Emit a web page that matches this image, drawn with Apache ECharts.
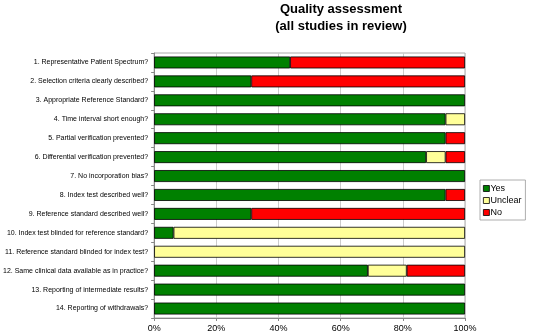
<!DOCTYPE html>
<html>
<head>
<meta charset="utf-8">
<script src="https://cdn.jsdelivr.net/npm/echarts@6/dist/echarts.min.js"></script>
<style>
  html, body { margin: 0; padding: 0; background: #fff; }
  #chart { width: 533px; height: 335px; }
</style>
</head>
<body>
<div id="chart"></div>
<script>
// questions, top to bottom
const questions = [
    '1. Representative Patient Spectrum?',
    '2. Selection criteria clearly described?',
    '3. Appropriate Reference Standard?',
    '4. Time interval short enough?',
    '5. Partial verification prevented?',
    '6. Differential verification prevented?',
    '7. No incorporation bias?',
    '8. Index test described well?',
    '9. Reference standard described well?',
    '10. Index test blinded for reference standard?',
    '11. Reference standard blinded for index test?',
    '12. Same clinical data available as in practice?',
    '13. Reporting of intermediate results?',
    '14. Reporting of withdrawals?'
];
// percentages
const yesPct     = [43.75, 31.25, 100, 93.75, 93.75, 87.5, 100, 93.75, 31.25, 6.25, 0, 68.75, 100, 100];
const unclearPct = [0, 0, 0, 6.25, 0, 6.25, 0, 0, 0, 93.75, 100, 12.5, 0, 0];
const noPct      = [56.25, 68.75, 0, 0, 6.25, 6.25, 0, 6.25, 68.75, 0, 0, 18.75, 0, 0];
const tickLabels = ['0%', '20%', '40%', '60%', '80%', '100%'];

const chart = echarts.init(document.getElementById('chart'));

function barSeries(name, data, color) {
    return {
        name: name,
        type: 'bar',
        stack: 'total',
        barCategoryGap: '37%',
        // empty segments would otherwise leave a stray border line
        data: data.map(v => v === 0 ? '-' : v),
        itemStyle: { color: color, borderColor: '#000', borderWidth: 0.8 },
        emphasis: { disabled: true }
    };
}

chart.setOption({
    animation: false,
    textStyle: { fontFamily: 'Liberation Sans, Arial, sans-serif' },
    title: {
        text: 'Quality assessment\n(all studies in review)',
        left: 336,
        textAlign: 'center',
        top: -4,
        textStyle: { fontSize: 13, fontWeight: 'bold', color: '#000', lineHeight: 17 }
    },
    legend: {
        orient: 'vertical',
        left: 480,
        top: 180,
        itemWidth: 6,
        itemHeight: 6,
        itemGap: 3,
        padding: [4, 4, 3, 3],
        borderColor: '#999',
        borderWidth: 0.8,
        textStyle: { fontSize: 9, color: '#000', padding: [0, 0, 0, -4] },
        icon: 'rect',
        data: [
            { name: 'Yes', itemStyle: { borderColor: '#000', borderWidth: 0.8 } },
            { name: 'Unclear', itemStyle: { borderColor: '#000', borderWidth: 0.8 } },
            { name: 'No', itemStyle: { borderColor: '#000', borderWidth: 0.8 } }
        ]
    },
    grid: { left: 154, right: 68, top: 53, bottom: 17, show: true, borderColor: '#aaa', borderWidth: 1 },
    xAxis: {
        type: 'value',
        min: 0,
        max: 100,
        interval: 20,
        axisLine: { show: true, lineStyle: { color: '#888' } },
        axisTick: { show: true, length: 3, lineStyle: { color: '#888' } },
        splitLine: { show: true, lineStyle: { color: '#ccc' } },
        axisLabel: {
            color: '#000',
            fontSize: 9,
            margin: 6,
            formatter: v => tickLabels[Math.round(v / 20)]
        }
    },
    yAxis: {
        type: 'category',
        inverse: true,
        data: questions,
        axisLine: { show: true, lineStyle: { color: '#888' } },
        axisTick: { show: true, length: 3, lineStyle: { color: '#888' } },
        axisLabel: { color: '#000', fontSize: 7, margin: 6 }
    },
    series: [
        barSeries('Yes', yesPct, '#008000'),
        barSeries('Unclear', unclearPct, '#ffff99'),
        barSeries('No', noPct, '#ff0000')
    ]
});
</script>
</body>
</html>
